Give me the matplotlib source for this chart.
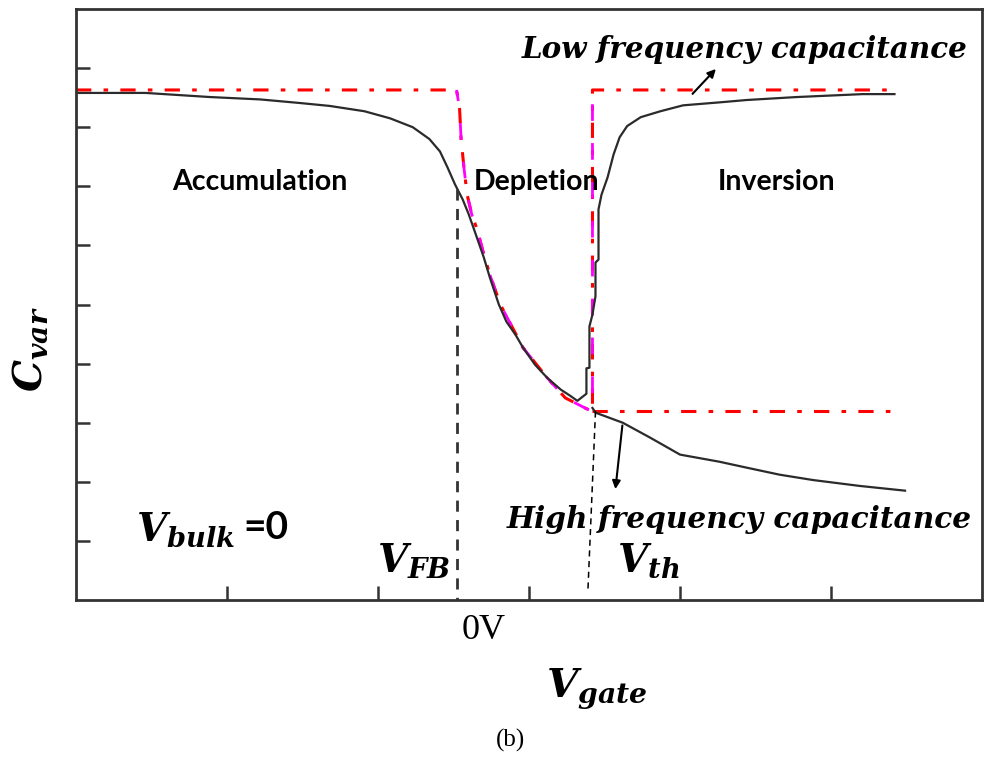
import matplotlib
matplotlib.use("Agg")
import matplotlib.pyplot as plt

plt.rcParams['mathtext.fontset'] = 'dejavuserif'

lf_x = [0.00, 0.46, 0.89, 1.22, 1.48, 1.68, 1.91, 2.08, 2.23, 2.34, 2.41, 2.46, 2.51,
        2.56, 2.60, 2.64, 2.70, 2.74, 2.80, 2.85, 2.91, 2.96, 3.04, 3.12, 3.21, 3.27,
        3.32, 3.38, 3.38, 3.40, 3.40, 3.42, 3.44, 3.44, 3.46, 3.46, 3.48, 3.52, 3.56,
        3.60, 3.65, 3.74, 3.87, 4.02, 4.26, 4.44, 4.77, 5.21, 5.42]
lf_y = [8.58, 8.58, 8.51, 8.47, 8.41, 8.36, 8.27, 8.15, 8.00, 7.80, 7.59, 7.32, 7.03,
        6.78, 6.53, 6.24, 5.80, 5.46, 5.00, 4.71, 4.49, 4.27, 3.98, 3.76, 3.56, 3.46,
        3.37, 3.49, 3.92, 3.93, 4.63, 4.83, 5.14, 5.71, 5.76, 6.61, 6.86, 7.15, 7.54,
        7.83, 8.02, 8.17, 8.27, 8.37, 8.42, 8.46, 8.51, 8.56, 8.56]

# measured curve (high frequency) beyond Vth
hf_x = [3.42, 3.44, 3.62, 3.80, 4.00, 4.26, 4.44, 4.66, 4.88, 5.19, 5.49]
hf_y = [3.25, 3.17, 3.00, 2.75, 2.46, 2.34, 2.24, 2.12, 2.03, 1.93, 1.85]

# ideal curve
dep_x = [2.52, 2.54, 2.55, 2.57, 2.59, 2.62, 2.66, 2.70, 2.74, 2.81, 2.89, 2.96, 3.12, 3.24, 3.37, 3.42]
dep_y = [8.63, 8.31, 7.80, 7.29, 6.86, 6.53, 6.24, 5.85, 5.51, 5.00, 4.61, 4.27, 3.76, 3.42, 3.25, 3.19]
c_max = 8.63
c_min = 3.19
x_start = 0.0
x_end = 5.41
v_fb = 2.52
v_th = 3.42

fig = plt.figure(figsize=(9.85, 7.57), dpi=100)
ax = fig.add_axes([0.0772, 0.2074, 0.9198, 0.7807])
ax.set_xlim(0, 6)
ax.set_ylim(0, 10)

# ideal curves
ideal_x = [x_start, v_fb] + dep_x + [v_th, x_end]
ideal_y = [c_max, c_max] + dep_y + [c_max, c_max]
ax.plot(ideal_x, ideal_y, color='red', lw=2.2, ls=(0, (5, 4, 1.5, 4)))
ax.plot(dep_x + [v_th], dep_y + [c_max], color='magenta', lw=2.0, ls=(2, (6, 8)))
ax.plot([v_th, x_end], [c_min, c_min], color='red', lw=2.2, ls=(0, (5, 4, 1.5, 4)))

# measured curves
ax.plot(lf_x, lf_y, color='#2b2b2b', lw=1.6)
ax.plot(hf_x, hf_y, color='#2b2b2b', lw=1.6)

# VFB / Vth markers
ax.plot([v_fb, v_fb], [6.95, 0], color='#333333', lw=2.0, ls=(0, (4, 3)))
ax.plot([3.44, 3.39], [3.19, 0.17], color='black', lw=1.1, ls=(0, (4, 3)))

ax.annotate('', xy=(4.25, 9.02), xytext=(4.07, 8.53),
            arrowprops=dict(arrowstyle='-|>', color='black', lw=1.5, mutation_scale=12))
ax.annotate('', xy=(3.57, 1.83), xytext=(3.62, 3.0),
            arrowprops=dict(arrowstyle='-|>', color='black', lw=1.5, mutation_scale=12))

# region labels
reg = dict(family='Lato', weight='bold', fontsize=20.5, ha='center', va='center')
ax.text(1.22, 7.07, 'Accumulation', **reg)
ax.text(3.05, 7.07, 'Depletion', **reg)
ax.text(4.64, 7.07, 'Inversion', **reg)

cap = dict(family='DejaVu Serif', style='italic', weight='bold', ha='center', va='center')
ax.text(4.43, 9.32, 'Low frequency capacitance', fontsize=21.2, **cap)
ax.text(4.39, 1.36, 'High frequency capacitance', fontsize=21.3, **cap)

ax.text(0.40, 1.19, r'$\mathbfit{V}_{\mathbfit{bulk}}$', fontsize=28, ha='left', va='center')
ax.text(1.11, 1.22, '=0', family='Lato', weight='bold', fontsize=28, ha='left', va='center')
ax.text(1.99, 0.66, r'$\mathbfit{V}_{\mathbfit{FB}}$', fontsize=28, ha='left', va='center')
ax.text(3.58, 0.66, r'$\mathbfit{V}_{\mathbfit{th}}$', fontsize=28, ha='left', va='center')

ax.text(2.70, -0.51, '0V', family='Liberation Serif', fontsize=26, ha='center', va='center', clip_on=False)
ax.text(3.11, -1.50, r'$\mathbfit{V}_{\mathbfit{gate}}$', fontsize=29, ha='left', va='center', clip_on=False)
ax.text(2.88, -2.37, '(b)', family='Liberation Serif', fontsize=18, ha='center', va='center', clip_on=False)
ax.text(-0.30, 4.24, r'$\mathbfit{C}_{\mathbfit{var}}$', fontsize=29, rotation=90, ha='center', va='center', clip_on=False)

ax.set_xticks([1, 2, 3, 4, 5])
ax.set_yticks([1, 2, 3, 4, 5, 6, 7, 8, 9])
ax.set_xticklabels([])
ax.set_yticklabels([])
ax.tick_params(direction='in', length=10, width=1.8, color='#333333')
for s in ax.spines.values():
    s.set_linewidth(2.0)
    s.set_color('#333333')

fig.savefig('out.png', dpi=100)
